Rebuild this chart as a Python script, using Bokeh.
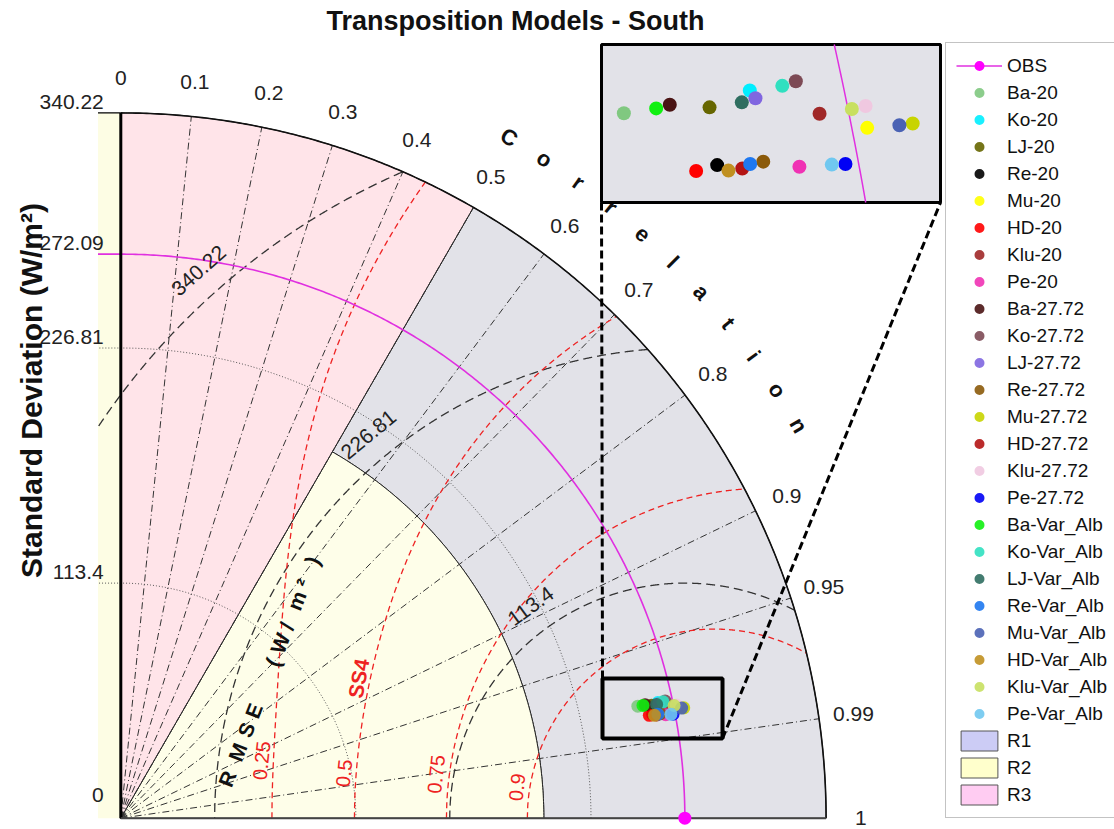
import numpy as np
from bokeh.plotting import figure
from bokeh.models import Range1d, Legend, LegendItem, Label
from bokeh.core.properties import value
from bokeh.embed import file_html
from bokeh.resources import INLINE

# ---------------- data ----------------
TITLE = "Transposition Models - South"
Y_LABEL = "Standard Deviation (W/m²)"
OBS_STD = 272.09
STD_MAX = 340.22
STD_TICKS = [0, 113.4, 226.81, 272.09, 340.22]
STD_TICK_LABELS = ["0", "113.4", "226.81", "272.09", "340.22"]
STD_ARCS = [113.4, 226.81]
CORR_TICKS = [0, 0.1, 0.2, 0.3, 0.4, 0.5, 0.6, 0.7, 0.8, 0.9, 0.95, 0.99, 1]
CORR_TICK_LABELS = ["0", "0.1", "0.2", "0.3", "0.4", "0.5", "0.6", "0.7", "0.8", "0.9", "0.95", "0.99", "1"]
RMSE_LEVELS = [113.4, 226.81, 340.22]
RMSE_LABELS = ["113.4", "226.81", "340.22"]
SS4_LEVELS = [0.25, 0.5, 0.75, 0.9]
SS4_LABELS = ["0.25", "0.5", "0.75", "0.9"]
REGION_CORR = 0.5
REGION_STD = 204.07
REGION_NAMES = ["R1", "R2", "R3"]

MODELS = ["Ba-20", "Ko-20", "LJ-20", "Re-20", "Mu-20", "HD-20", "Klu-20", "Pe-20",
          "Ba-27.72", "Ko-27.72", "LJ-27.72", "Re-27.72", "Mu-27.72", "HD-27.72", "Klu-27.72", "Pe-27.72",
          "Ba-Var_Alb", "Ko-Var_Alb", "LJ-Var_Alb", "Re-Var_Alb", "Mu-Var_Alb", "HD-Var_Alb", "Klu-Var_Alb", "Pe-Var_Alb"]
MODEL_STD = [255.20, 265.01, 261.72, 261.41, 273.25, 259.74, 269.88, 267.58,
             258.78, 268.61, 265.31, 264.93, 276.74, 263.25, 273.46, 271.09,
             257.70, 267.52, 264.22, 263.91, 275.71, 262.18, 272.38, 270.05]
MODEL_CORR = [0.97733, 0.97760, 0.97809, 0.98149, 0.98107, 0.98159, 0.97978, 0.98243,
              0.97742, 0.97764, 0.97813, 0.98179, 0.98131, 0.98194, 0.97987, 0.98274,
              0.97746, 0.97774, 0.97820, 0.98178, 0.98127, 0.98191, 0.97988, 0.98264]
MODEL_COLORS = ["#80c880", "#00eeff", "#666600", "#000000", "#ffff00", "#ff0000", "#a02828", "#f032b4",
                "#4a1414", "#7d4a55", "#8066e0", "#8b5a0a", "#c8d400", "#b41414", "#f0c8e0", "#0000f5",
                "#10f010", "#30e0c0", "#2f6e60", "#1e78f0", "#4a62b4", "#c09020", "#c8e060", "#70c8f0"]

# ---------------- style / layout ----------------
FONT = "Liberation Sans"
MAGENTA = "#e030e0"
REGION_PLOT_COLORS = ["#e2e2e8", "#fefee9", "#ffe4e9"]
REGION_LEGEND_COLORS = ["#ccccf5", "#ffffcc", "#ffccf2"]
STRIP_W = 11.0

p = figure(width=1114, height=829, x_range=Range1d(-58.03, 479.35), y_range=Range1d(-5.45, 394.45),
           output_backend="svg", toolbar_location=None, x_axis_location=None, y_axis_location=None,
           min_border=0, outline_line_color=None)
p.grid.grid_line_color = None
p.background_fill_color = "white"
p.border_fill_color = "white"


def sector(r0, r1, a0, a1, n=160):
    t = np.radians(np.linspace(a0, a1, n))
    xo, yo = r1 * np.cos(t), r1 * np.sin(t)
    if r0 > 0:
        xi, yi = r0 * np.cos(t[::-1]), r0 * np.sin(t[::-1])
    else:
        xi, yi = np.array([0.0]), np.array([0.0])
    return np.concatenate([xo, xi]), np.concatenate([yo, yi])


a_reg = np.degrees(np.arccos(REGION_CORR))
# regions
p.quad(left=-STRIP_W, right=0, bottom=0, top=STD_MAX, fill_color="#fdfde4", line_color=None)
gx, gy = sector(REGION_STD, STD_MAX, 0, a_reg)
yx, yy = sector(0, REGION_STD, 0, a_reg)
px_, py_ = sector(0, STD_MAX, a_reg, 90)
p.patches(xs=[list(gx), list(yx), list(px_)], ys=[list(gy), list(yy), list(py_)],
          fill_color=REGION_PLOT_COLORS, line_color="#222222", line_width=1)

# std dotted arcs
t90 = np.radians(np.linspace(0, 90, 300))
for s in STD_ARCS:
    ax = np.concatenate([s * np.cos(t90), [-STRIP_W]])
    ay = np.concatenate([s * np.sin(t90), [s]])
    p.line(ax, ay, line_color="#555555", line_width=1, line_dash="1 2")

# correlation radial lines
cl = [c for c in CORR_TICKS if 0 < c < 1]
p.multi_line(xs=[[0, STD_MAX * c] for c in cl], ys=[[0, STD_MAX * np.sqrt(1 - c * c)] for c in cl],
             line_color="#333333", line_width=1, line_dash="7 3 1 3")

# RMSE circles
for rr in RMSE_LEVELS:
    t = np.linspace(0, np.pi, 2000)
    x = OBS_STD + rr * np.cos(t)
    y = rr * np.sin(t)
    ok = ((x >= 0) & (x ** 2 + y ** 2 <= STD_MAX ** 2)) | ((x < 0) & (x >= -STRIP_W) & (y <= STD_MAX))
    p.line(np.where(ok, x, np.nan), np.where(ok, y, np.nan), line_color="#333333",
           line_width=1.3, line_dash="9 5")

# SS4 skill score curves
ss4_roots = []
for S in SS4_LEVELS:
    a = 2 / np.sqrt(S)
    s_lo = (a - np.sqrt(a * a - 4)) / 2
    ss4_roots.append(s_lo * OBS_STD)
    sh = np.linspace(s_lo, STD_MAX / OBS_STD, 500)
    R = np.clip((4 * S * (sh + 1 / sh) ** 2) ** 0.25 - 1, -1, 1)
    sd = sh * OBS_STD
    p.line(sd * R, sd * np.sqrt(1 - R ** 2), line_color="#ee2222", line_width=1.3, line_dash="6 4")

# reference (OBS) std arc
obs_x = np.concatenate([OBS_STD * np.cos(t90), [-STRIP_W]])
obs_y = np.concatenate([OBS_STD * np.sin(t90), [OBS_STD]])
r_obs_line = p.line(obs_x, obs_y, line_color=MAGENTA, line_width=1.6)

# outer arc, axes
p.line(STD_MAX * np.cos(t90), STD_MAX * np.sin(t90), line_color="#111111", line_width=1.6)
p.line([0, 0], [0, STD_MAX], line_color="black", line_width=3)
p.line([0, STD_MAX], [0, 0], line_color="#444444", line_width=2)
p.line([-STRIP_W, 0], [STD_MAX, STD_MAX], line_color="black", line_width=1.2)

# std tick labels
p.text(x=[-8.2] * len(STD_TICKS), y=[s + (8 if s == 0 else 2) for s in STD_TICKS], text=STD_TICK_LABELS,
       text_font=value(FONT), text_font_size="21px", text_align="right", text_baseline="bottom",
       text_color="#222222")

# correlation tick labels
CR = 357.0
p.text(x=[CR * c for c in CORR_TICKS], y=[CR * np.sqrt(1 - c * c) for c in CORR_TICKS], text=CORR_TICK_LABELS,
       text_font=value(FONT), text_font_size="21px", text_align="center", text_baseline="middle",
       text_color="#222222")

# "Correlation" word along arc
word = "Correlation"
angs = np.linspace(60.3, 30.1, len(word))
p.text(x=list(378 * np.cos(np.radians(angs))), y=list(378 * np.sin(np.radians(angs))), text=list(word),
       angle=list(angs - 90), angle_units="deg", text_font=value(FONT), text_font_size="22px",
       text_font_style="bold", text_align="center", text_baseline="middle", text_color="#111111")

# RMSE contour labels
rm_ang = [126.0, 129.5, 131.6]
p.text(x=[OBS_STD + (rr + 13) * np.cos(np.radians(a)) for rr, a in zip(RMSE_LEVELS, rm_ang)],
       y=[(rr + 13) * np.sin(np.radians(a)) for rr, a in zip(RMSE_LEVELS, rm_ang)],
       text=RMSE_LABELS, angle=[a - 90 for a in rm_ang], angle_units="deg",
       text_font=value(FONT), text_font_size="21px", text_align="center", text_baseline="middle",
       text_color="#222222")

# SS4 labels
p.text(x=[r - 5 for r in ss4_roots], y=[27.8, 21.7, 21.2, 14.9], text=SS4_LABELS, angle=84, angle_units="deg",
       text_font=value(FONT), text_font_size="20px", text_align="center", text_baseline="middle",
       text_color="#ee2222")
p.text(x=[114.7], y=[67.4], text=["SS4"], angle=80, angle_units="deg", text_font=value(FONT),
       text_font_size="21px", text_font_style="bold", text_align="center", text_baseline="middle",
       text_color="#ee2222")

# RMSE axis title along a line
rm_chars = ["R", "M", "S", "E", "(", "W", "/", "m", "²", ")"]
rm_dist = np.array([0, 13.8, 25.4, 35.3, 60.4, 70.2, 79.1, 92.3, 101.2, 113.0])
rm_th = np.radians(68.7)
p.text(x=list(51.33 + rm_dist * np.cos(rm_th)), y=list(19.0 + rm_dist * np.sin(rm_th)), text=rm_chars,
       angle=68.7, angle_units="deg", text_font=value(FONT), text_font_size="21px", text_font_style="bold",
       text_align="center", text_baseline="middle", text_color="#111111")

# zoom box, connectors, inset
BOX = (232.37, 290.26, 38.45, 67.39)
INSET = (231.89, 395.42, 297.01, 373.23)
p.quad(left=[INSET[0]], right=[INSET[1]], bottom=[INSET[2]], top=[INSET[3]], fill_color="#e2e2e8",
       line_color="black", line_width=3)
p.segment(x0=[BOX[0], BOX[1]], y0=[BOX[3], BOX[2]], x1=[INSET[0], INSET[1]], y1=[INSET[2], INSET[2]],
          line_color="black", line_width=3, line_dash="8 4")
p.quad(left=[BOX[0]], right=[BOX[1]], bottom=[BOX[2]], top=[BOX[3]], fill_color=None,
       line_color="black", line_width=4)

ZX, ZY = (247.7, 273.7), (47.2, 59.3)
sub = p.subplot(x_source=Range1d(*ZX), y_source=Range1d(*ZY),
                x_target=Range1d(INSET[0], INSET[1]), y_target=Range1d(INSET[2], INSET[3]))
zy = np.linspace(ZY[0], ZY[1], 50)
sub.line(np.sqrt(OBS_STD ** 2 - zy ** 2), zy, line_color=MAGENTA, line_width=1.5)

mx = [s * c for s, c in zip(MODEL_STD, MODEL_CORR)]
my = [s * np.sqrt(1 - c * c) for s, c in zip(MODEL_STD, MODEL_CORR)]
items = []
r_obs_pt = p.scatter([OBS_STD], [0], size=13, fill_color="#ff00ff", line_color=None)
items.append(LegendItem(label="OBS", renderers=[r_obs_line, r_obs_pt]))
for name, x, y, c in zip(MODELS, mx, my, MODEL_COLORS):
    r = p.scatter([x], [y], size=13, fill_color=c, line_color=None, fill_alpha=0.9)
    sub.scatter([x], [y], size=14, fill_color=c, line_color=None)
    items.append(LegendItem(label=name, renderers=[r]))
for name, c in zip(REGION_NAMES, REGION_LEGEND_COLORS):
    r = p.quad(left=[np.nan], right=[np.nan], bottom=[np.nan], top=[np.nan],
               fill_color=c, line_color="#555555", line_width=1)
    items.append(LegendItem(label=name, renderers=[r]))

legend = Legend(items=items, location=(945, 11), border_line_color="#888888", border_line_width=1,
                background_fill_color="white", background_fill_alpha=1.0, label_text_font=FONT,
                label_text_font_size="19px", label_text_color="#111111", glyph_width=46, glyph_height=25,
                label_height=25, spacing=2, padding=10, margin=0, label_standoff=5)
p.add_layout(legend)

# title and y label
p.add_layout(Label(x=190.4, y=384.8, text=TITLE, text_font=FONT, text_font_size="27px",
                   text_font_style="bold", text_align="center", text_baseline="middle", text_color="#111111"))
p.add_layout(Label(x=-43.1, y=206.3, text=Y_LABEL, angle=90, angle_units="deg", text_font=FONT,
                   text_font_size="30px", text_font_style="bold", text_align="center",
                   text_baseline="middle", text_color="#111111"))

open("out.html", "w").write(file_html(p, INLINE))
